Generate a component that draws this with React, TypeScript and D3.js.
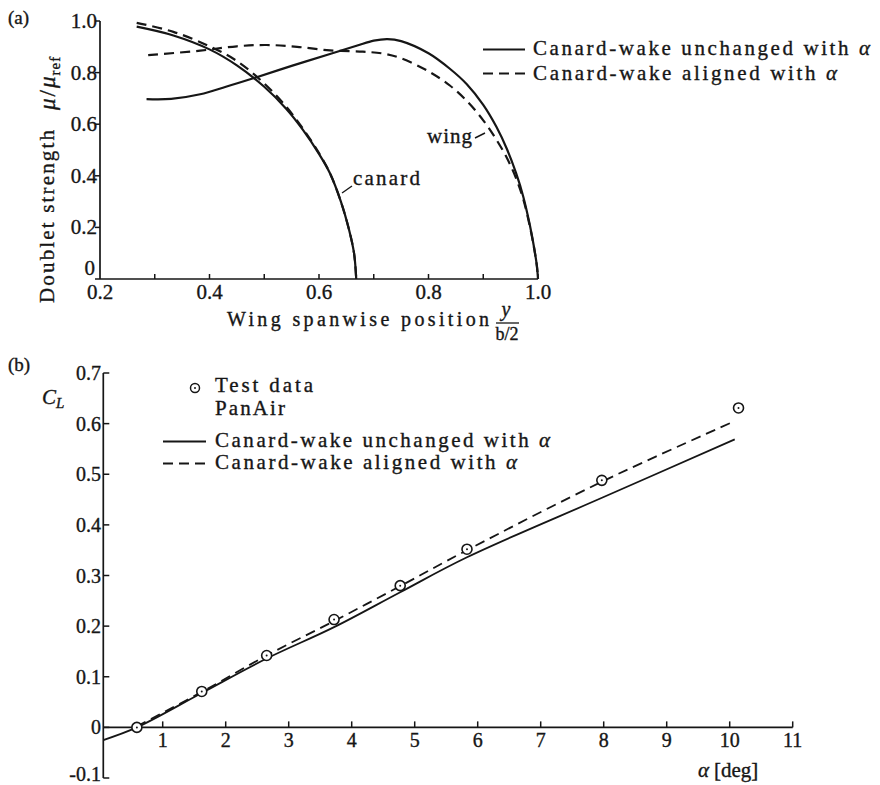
import React from 'react';
import * as d3 from 'd3';

// (a) doublet strength along the span, [y/(b/2), mu/mu_ref]
const canardUnchanged: [number, number][] = [
  [0.267, 0.978], [0.334, 0.944], [0.4, 0.89], [0.45, 0.828], [0.5, 0.745],
  [0.54, 0.66], [0.57, 0.58], [0.6, 0.485], [0.62, 0.41], [0.64, 0.3],
  [0.655, 0.19], [0.664, 0.1], [0.668, 0],
];
const canardAligned: [number, number][] = [
  [0.267, 0.993], [0.334, 0.958], [0.4, 0.902], [0.45, 0.845], [0.5, 0.758],
  [0.54, 0.668], [0.57, 0.585], [0.6, 0.488], [0.62, 0.41], [0.64, 0.3],
  [0.655, 0.19], [0.664, 0.1], [0.668, 0],
];
const wingUnchanged: [number, number][] = [
  [0.285, 0.697], [0.33, 0.698], [0.383, 0.716], [0.43, 0.745], [0.48, 0.778],
  [0.55, 0.826], [0.62, 0.872], [0.67, 0.905], [0.7, 0.924], [0.725, 0.93],
  [0.75, 0.922], [0.8, 0.875], [0.839, 0.815], [0.87, 0.755], [0.9, 0.675],
  [0.924, 0.59], [0.943, 0.505], [0.96, 0.41], [0.973, 0.32], [0.985, 0.21],
  [0.993, 0.12], [0.998, 0.05], [1.0, 0],
];
const wingAligned: [number, number][] = [
  [0.288, 0.868], [0.383, 0.885], [0.45, 0.902], [0.504, 0.907], [0.56, 0.9],
  [0.62, 0.886], [0.68, 0.881], [0.717, 0.874], [0.748, 0.857], [0.8, 0.805],
  [0.839, 0.75], [0.87, 0.69], [0.9, 0.615], [0.924, 0.54], [0.943, 0.47],
  [0.96, 0.39], [0.973, 0.31], [0.985, 0.205], [0.993, 0.118], [0.998, 0.05],
  [1.0, 0],
];
const spanTicks = [0.2, 0.3, 0.4, 0.5, 0.6, 0.7, 0.8, 0.9, 1.0];
const spanLabels = ['0.2', '0.4', '0.6', '0.8', '1.0'];
const muLabels = ['0', '0.2', '0.4', '0.6', '0.8', '1.0'];

// (b) lift curve
const testAlpha = [0.59, 1.62, 2.65, 3.72, 4.77, 5.83, 7.97, 10.14];
const testCL = [0.0, 0.071, 0.142, 0.213, 0.28, 0.352, 0.488, 0.631];
const unchangedAlpha = [0.057, 0.59, 1.62, 2.65, 3.72, 4.77, 5.83, 8.0, 10.08];
const unchangedCL = [-0.025, 0.0, 0.068, 0.136, 0.198, 0.267, 0.336, 0.455, 0.569];
const alignedAlpha = [0.59, 1.62, 2.65, 3.72, 4.77, 5.83, 8.0, 10.08];
const alignedCL = [0.002, 0.07, 0.142, 0.21, 0.279, 0.35, 0.487, 0.605];
const alphaLabels = ['1', '2', '3', '4', '5', '6', '7', '8', '9', '10', '11'];
const clLabels = ['-0.1', '0', '0.1', '0.2', '0.3', '0.4', '0.5', '0.6', '0.7'];

const FONT = "'Liberation Serif', 'Times New Roman', serif";
const INK = '#161616';

export default function App() {
  const xA = d3.scaleLinear().domain([0.2, 1.0]).range([100, 538]);
  const yA = d3.scaleLinear().domain([0, 1]).range([279, 21]);
  const xB = d3.scaleLinear().domain([0, 11]).range([99.7, 792.7]);
  const yB = d3.scaleLinear().domain([-0.1, 0.7]).range([778, 373]);
  const axisB = 0.057; // where the C_L axis crosses

  const lineA = d3
    .line<[number, number]>()
    .x((d) => xA(d[0]))
    .y((d) => yA(d[1]))
    .curve(d3.curveCatmullRom.alpha(0.5));

  const zip = (a: number[], b: number[]) => a.map((v, i) => [v, b[i]] as [number, number]);
  const bLine = (a: number[], c: number[]) =>
    d3
      .line<[number, number]>()
      .x((d) => xB(d[0]))
      .y((d) => yB(d[1]))
      .curve(d3.curveCatmullRom.alpha(0.5))(zip(a, c));

  const dash = '10,6';

  return (
    <svg
      width={880}
      height={785}
      style={{ position: 'absolute', left: 0, top: 0, background: '#fff' }}
      fontFamily={FONT}
      fill={INK}
    >
      <style>{`text { stroke: ${INK}; stroke-width: 0.35px; }`}</style>
      {/* ---------- (a) ---------- */}
      <text x={8} y={24} fontSize={19}>(a)</text>

      <line x1={xA(0.2)} x2={xA(0.2)} y1={yA(1)} y2={yA(0)} stroke={INK} strokeWidth={1.7} />
      <line x1={xA(0.2)} x2={xA(1)} y1={yA(0)} y2={yA(0)} stroke={INK} strokeWidth={1.7} />
      {muLabels.map((t) => (
        <g key={t}>
          <line x1={xA(0.2) - 5} x2={xA(0.2)} y1={yA(+t)} y2={yA(+t)} stroke={INK} strokeWidth={1.5} />
          <text x={+t === 0 ? 95 : 97} y={+t === 0 ? yA(0) - 4 : yA(+t) + 7} fontSize={21} textAnchor="end">{t}</text>
        </g>
      ))}
      {spanTicks.slice(1).map((t) => (
        <line key={t} x1={xA(t)} x2={xA(t)} y1={yA(0)} y2={yA(0) - 5} stroke={INK} strokeWidth={1.5} />
      ))}
      {spanLabels.map((t) => (
        <text key={t} x={xA(+t)} y={299} fontSize={21} textAnchor="middle">{t}</text>
      ))}

      <text x={227} y={326} fontSize={20} textLength={262} lengthAdjust="spacing">
        Wing spanwise position
      </text>
      <text x={506} y={316} fontSize={20} fontStyle="italic" textAnchor="middle">y</text>
      <line x1={496} x2={519} y1={323} y2={323} stroke={INK} strokeWidth={1.3} />
      <text x={507} y={340} fontSize={18} textAnchor="middle">b/2</text>

      <g transform="translate(54,303) rotate(-90)">
        <text x={0} y={0} fontSize={21} textLength={173} lengthAdjust="spacing">
          Doublet strength
        </text>
      </g>
      <g transform="translate(55,110) rotate(-90)">
        <text x={0} y={0} fontSize={23} fontStyle="italic">
          μ<tspan fontStyle="normal" dx={2}>/</tspan>
          <tspan dx={2}>μ</tspan>
          <tspan fontSize={15} fontStyle="normal" dy={5} dx={1} letterSpacing={1}>ref</tspan>
        </text>
      </g>

      <g fill="none" stroke={INK} strokeWidth={2.2}>
        <path d={lineA(canardUnchanged) ?? ''} />
        <path d={lineA(canardAligned) ?? ''} strokeDasharray={dash} />
        <path d={lineA(wingUnchanged) ?? ''} />
        <path d={lineA(wingAligned) ?? ''} strokeDasharray={dash} />
      </g>

      <text x={353} y={185} fontSize={21} textLength={67} lengthAdjust="spacing">canard</text>
      <line x1={342} y1={193} x2={352} y2={186} stroke={INK} strokeWidth={1.4} />
      <text x={427} y={143} fontSize={21} textLength={45} lengthAdjust="spacing">wing</text>
      <line x1={475} y1={138} x2={485} y2={133} stroke={INK} strokeWidth={1.4} />

      <line x1={483} x2={525} y1={49.5} y2={49.5} stroke={INK} strokeWidth={2.2} />
      <text x={533} y={55} fontSize={21} textLength={337} lengthAdjust="spacing">
        Canard-wake unchanged with <tspan fontStyle="italic">α</tspan>
      </text>
      <line x1={483} x2={525} y1={73.5} y2={73.5} stroke={INK} strokeWidth={2.2} strokeDasharray={dash} />
      <text x={533} y={80} fontSize={21} textLength={304} lengthAdjust="spacing">
        Canard-wake aligned with <tspan fontStyle="italic">α</tspan>
      </text>

      {/* ---------- (b) ---------- */}
      <text x={8} y={371} fontSize={19}>(b)</text>

      <line x1={xB(axisB)} x2={xB(axisB)} y1={yB(0.7)} y2={yB(-0.1)} stroke={INK} strokeWidth={1.7} />
      <line x1={xB(axisB)} x2={xB(11)} y1={yB(0)} y2={yB(0)} stroke={INK} strokeWidth={1.7} />
      {clLabels.map((t) => (
        <g key={t}>
          <line x1={xB(axisB)} x2={xB(axisB) + 6} y1={yB(+t)} y2={yB(+t)} stroke={INK} strokeWidth={1.5} />
          <text x={101} y={Math.min(yB(+t) + 7, 781)} fontSize={20} textAnchor="end">{t}</text>
        </g>
      ))}
      {alphaLabels.map((t) => (
        <g key={t}>
          <line x1={xB(+t)} x2={xB(+t)} y1={yB(0)} y2={yB(0) - 6} stroke={INK} strokeWidth={1.5} />
          <text x={xB(+t)} y={747} fontSize={20} textAnchor="middle">{t}</text>
        </g>
      ))}

      <text x={698} y={777} fontSize={21}>
        <tspan fontStyle="italic">α</tspan>
        <tspan dx={5}>[deg]</tspan>
      </text>
      <text x={42} y={404} fontSize={21} fontStyle="italic">
        C<tspan fontSize={15} dy={4}>L</tspan>
      </text>

      <g fill="none" stroke={INK} strokeWidth={1.8}>
        <path d={bLine(unchangedAlpha, unchangedCL) ?? ''} />
        <path d={bLine(alignedAlpha, alignedCL) ?? ''} strokeDasharray={dash} />
      </g>
      {testAlpha.map((a, i) => (
        <g key={a}>
          <circle cx={xB(a)} cy={yB(testCL[i])} r={5} fill="#fff" stroke={INK} strokeWidth={1.6} />
          <circle cx={xB(a)} cy={yB(testCL[i])} r={1} fill={INK} />
        </g>
      ))}

      <circle cx={195} cy={388} r={4.5} fill="#fff" stroke={INK} strokeWidth={1.5} />
      <circle cx={195} cy={388} r={1} fill={INK} />
      <text x={215} y={392} fontSize={21} textLength={98} lengthAdjust="spacing">Test data</text>
      <text x={215} y={415} fontSize={21} textLength={70} lengthAdjust="spacing">PanAir</text>
      <line x1={163} x2={206} y1={441.5} y2={441.5} stroke={INK} strokeWidth={1.8} />
      <text x={215} y={447} fontSize={21} textLength={335} lengthAdjust="spacing">
        Canard-wake unchanged with <tspan fontStyle="italic">α</tspan>
      </text>
      <line x1={163} x2={206} y1={463.5} y2={463.5} stroke={INK} strokeWidth={1.8} strokeDasharray={dash} />
      <text x={215} y={469} fontSize={21} textLength={302} lengthAdjust="spacing">
        Canard-wake aligned with <tspan fontStyle="italic">α</tspan>
      </text>
    </svg>
  );
}
